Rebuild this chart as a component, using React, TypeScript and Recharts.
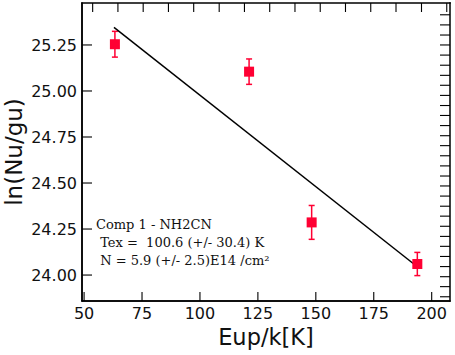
import { ScatterChart, Scatter, XAxis, YAxis, ErrorBar } from "recharts";

// rotational diagram points
const eupK = [63.3, 121.2, 148.2, 193.8];
const lnNuGu = [25.254, 25.105, 24.286, 24.06];
const lnNuGuErr = [0.07, 0.069, 0.092, 0.063];

// fitted line end points
const fitEup = [62.9, 193.8];
const fitLn = [25.346, 24.045];

const X_MIN = 49.1;
const X_MAX = 207.9;
const Y_MIN = 23.859;
const Y_MAX = 25.478;

const xTicks = [50, 75, 100, 125, 150, 175, 200];
const yTicks = [24.0, 24.25, 24.5, 24.75, 25.0, 25.25];
// unlabelled minor ticks of the top / right frame, in Eup and ln units
const topTicks = [
  53.7, 64.6, 75.5, 86.4, 97.3, 108.3, 119.2, 130.1, 141.0, 151.9, 162.8,
  173.7, 184.6, 195.6, 206.5,
];
const rightTicks = [
  23.882, 23.937, 23.991, 24.046, 24.101, 24.156, 24.21, 24.265, 24.32,
  24.374, 24.429, 24.484, 24.538, 24.593, 24.648, 24.703, 24.757, 24.812,
  24.867, 24.921, 24.976, 25.031, 25.085, 25.14, 25.195, 25.25, 25.304,
  25.359, 25.414,
];

const points = eupK.map((x, i) => ({ x, y: lnNuGu[i], err: lnNuGuErr[i] }));
const fit = fitEup.map((x, i) => ({ x, y: fitLn[i] }));

const W = 455;
const H = 355;
const M = { top: 3, right: 5, left: 82, bottom: 54 };
const PLOT_L = M.left;
const PLOT_R = W - M.right;
const PLOT_T = M.top;
const PLOT_B = H - M.bottom;

const RED = "#ff0033";
const FONT = "DejaVu Sans, sans-serif";
const frame = { stroke: "#000", strokeWidth: 1.5 };

// same linear mapping as the chart's axes, used only for the box and its ticks
const px = (v: number) => PLOT_L + ((v - X_MIN) / (X_MAX - X_MIN)) * (PLOT_R - PLOT_L);
const py = (v: number) => PLOT_T + ((Y_MAX - v) / (Y_MAX - Y_MIN)) * (PLOT_B - PLOT_T);

function BottomTick({ x, y, payload }: any) {
  return (
    <text x={x} y={y + 17.5} textAnchor="middle" fontSize={16} fontFamily={FONT} fill="#111">
      {payload.value}
    </text>
  );
}

function LeftTick({ x, y, payload }: any) {
  return (
    <text x={x - 5} y={y} dy="0.36em" textAnchor="end" fontSize={16} fontFamily={FONT} fill="#111">
      {payload.value.toFixed(2)}
    </text>
  );
}

function Square({ cx, cy }: any) {
  if (cx == null || cy == null) return null;
  return <rect x={cx - 5} y={cy - 5} width={10} height={10} fill={RED} />;
}

// box around the plot with inward tick marks, drawn as thin filled rects
function Frame() {
  const t = 1.1;
  const f = 1.5;
  return (
    <svg
      width={W}
      height={H}
      style={{ position: "absolute", left: 0, top: 0, pointerEvents: "none" }}
    >
      <rect x={PLOT_L - f / 2} y={PLOT_T - f / 2} width={PLOT_R - PLOT_L + f} height={f} fill="#000" />
      <rect x={PLOT_L - f / 2} y={PLOT_B - f / 2} width={PLOT_R - PLOT_L + f} height={f} fill="#000" />
      <rect x={PLOT_L - f / 2} y={PLOT_T - f / 2} width={f} height={PLOT_B - PLOT_T + f} fill="#000" />
      <rect x={PLOT_R - f / 2} y={PLOT_T - f / 2} width={f} height={PLOT_B - PLOT_T + f} fill="#000" />
      {xTicks.map((v) => (
        <rect key={`b${v}`} x={px(v) - t / 2} y={PLOT_B - 9} width={t} height={9} fill="#000" />
      ))}
      {topTicks.map((v) => (
        <rect key={`t${v}`} x={px(v) - t / 2} y={PLOT_T} width={t} height={9} fill="#000" />
      ))}
      {yTicks.map((v) => (
        <rect key={`l${v}`} x={PLOT_L} y={py(v) - t / 2} width={10} height={t} fill="#000" />
      ))}
      {rightTicks.map((v) => (
        <rect key={`r${v}`} x={PLOT_R - 10} y={py(v) - t / 2} width={10} height={t} fill="#000" />
      ))}
      <text x={(PLOT_L + PLOT_R) / 2} y={344.5} textAnchor="middle" fontSize={22.5} fontFamily={FONT} fill="#111">
        Eup/k[K]
      </text>
      <text
        x={22}
        y={152}
        transform="rotate(-90, 22, 152)"
        textAnchor="middle"
        fontSize={23}
        fontFamily={FONT}
        fill="#111"
      >
        ln(Nu/gu)
      </text>
    </svg>
  );
}

export default function App() {
  return (
    <div
      style={{
        position: "absolute",
        left: 0,
        top: 0,
        width: W,
        height: H,
        background: "#fff",
      }}
    >
      <ScatterChart
        width={W}
        height={H}
        margin={{ top: M.top, right: M.right, bottom: 0, left: 0 }}
      >
        <XAxis
          xAxisId="bottom"
          type="number"
          dataKey="x"
          domain={[X_MIN, X_MAX]}
          ticks={xTicks}
          allowDataOverflow
          height={M.bottom}
          axisLine={frame}
          tickLine={false}
          tickSize={0}
          tickMargin={0}
          tick={<BottomTick />}
        />
        <YAxis
          yAxisId="left"
          type="number"
          dataKey="y"
          domain={[Y_MIN, Y_MAX]}
          ticks={yTicks}
          allowDataOverflow
          width={M.left}
          axisLine={frame}
          tickLine={false}
          tickSize={0}
          tickMargin={0}
          tick={<LeftTick />}
        />
        <Scatter
          xAxisId="bottom"
          yAxisId="left"
          data={fit}
          line={{ stroke: "#000", strokeWidth: 1.5 }}
          shape={() => <g />}
          isAnimationActive={false}
        />
        <Scatter
          xAxisId="bottom"
          yAxisId="left"
          data={points}
          shape={<Square />}
          isAnimationActive={false}
        >
          <ErrorBar
            dataKey="err"
            direction="y"
            width={3}
            stroke={RED}
            strokeWidth={1.5}
            isAnimationActive={false}
          />
        </Scatter>
      </ScatterChart>
      <Frame />
      <div
        style={{
          position: "absolute",
          left: 96,
          top: 216,
          fontFamily: "DejaVu Serif, serif",
          fontSize: 13,
          lineHeight: "18px",
          whiteSpace: "pre",
          color: "#111",
        }}
      >
        {"Comp 1 - NH2CN\n Tex =  100.6 (+/- 30.4) K\n N = 5.9 (+/- 2.5)E14 /cm²"}
      </div>
    </div>
  );
}
